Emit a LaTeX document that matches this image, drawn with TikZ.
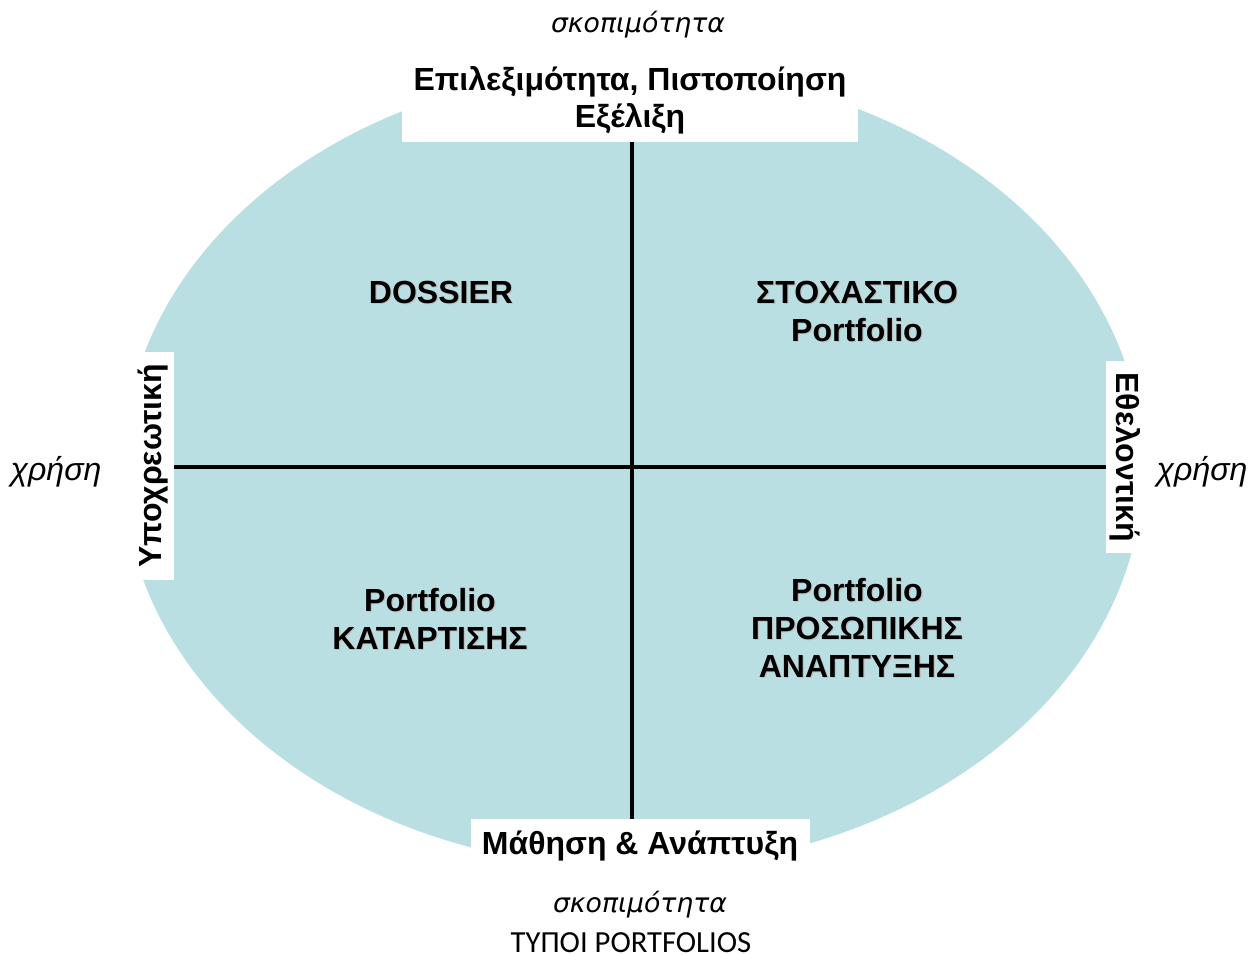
\documentclass[tikz,border=0pt]{standalone}
\usepackage{fontspec}
\setmainfont{Liberation Sans}
\newfontfamily\dvs{DejaVu Sans}
\newfontfamily\crl{Carlito}
\definecolor{ellteal}{RGB}{186,223,226}
\begin{document}
\begin{tikzpicture}[x=0.75pt,y=-0.75pt,
  boldlbl/.style={font=\bfseries\fontsize{24}{27.75}\selectfont, align=center, inner sep=0pt},
  quadlbl/.style={font=\bfseries\fontsize{24}{28.5}\selectfont, align=center, inner sep=0pt},
  quadshadow/.style={quadlbl, text=black!25},
  itlbl/.style={font=\dvs\itshape\fontsize{20}{24}\selectfont, inner sep=0pt},
  itlblb/.style={font=\itshape\fontsize{24}{28}\selectfont, inner sep=0pt},
  whitebox/.style={fill=white, draw=none, inner sep=0pt},
  axis/.style={line width=3pt, black}]
\useasboundingbox (0,0) rectangle (1248,955);
\fill[ellteal] (633,468) ellipse [x radius=510, y radius=400];
% white boxes
\node[whitebox, minimum width=342pt, minimum height=65.25pt] (topbox) at (630,98.5) {};
\node[whitebox, minimum width=40.5pt, minimum height=171pt] (leftbox) at (147,466) {};
\node[whitebox, minimum width=33pt, minimum height=144pt] (rightbox) at (1128,457) {};
\node[whitebox, minimum width=254.25pt, minimum height=39.75pt] (botbox) at (640.5,845.5) {};
% axes
\coordinate (vt) at (632,142);
\coordinate (vb) at (632,819);
\coordinate (hl) at (174,467);
\coordinate (hr) at (1106,467);
\draw[axis] (vt) -- (vb);
\draw[axis] (hl) -- (hr);
% texts
\node[itlbl] (sk1) at (638,25) {σκοπιμότητα};
\node[boldlbl] (toptxt) at (630,100) {Επιλεξιμότητα, Πιστοποίηση\\Εξέλιξη};
\node[boldlbl, rotate=90] (lefttxt) at (153,466) {Υποχρεωτική};
\node[boldlbl, rotate=-90] (righttxt) at (1125,457) {Εθελοντική};
\node[itlblb] (xl) at (56,472) {χρήση};
\node[itlblb] (xr) at (1202,472) {χρήση};
\node[boldlbl] (bottxt) at (640,846) {Μάθηση \& Ανάπτυξη};
\node[itlbl] (sk2) at (640,905) {σκοπιμότητα};
\node[font=\crl\fontsize{23}{26}\selectfont, inner sep=0pt, anchor=base] (typ) at (631,952) {ΤΥΠΟΙ PORTFOLIOS};
% quadrant labels with soft shadow
\node[quadshadow] (q1s) at (442.2,293.2) {DOSSIER};
\node[quadshadow] (q2s) at (858.2,312.2) {ΣΤΟΧΑΣΤΙΚΟ\\Portfolio};
\node[quadshadow] (q3s) at (431.2,620.2) {Portfolio\\ΚΑΤΑΡΤΙΣΗΣ};
\node[quadshadow] (q4s) at (858.2,629.2) {Portfolio\\ΠΡΟΣΩΠΙΚΗΣ\\ΑΝΑΠΤΥΞΗΣ};
\node[quadlbl] (q1) at (441,292) {DOSSIER};
\node[quadlbl] (q2) at (857,311) {ΣΤΟΧΑΣΤΙΚΟ\\Portfolio};
\node[quadlbl] (q3) at (430,619) {Portfolio\\ΚΑΤΑΡΤΙΣΗΣ};
\node[quadlbl] (q4) at (857,628) {Portfolio\\ΠΡΟΣΩΠΙΚΗΣ\\ΑΝΑΠΤΥΞΗΣ};
\end{tikzpicture}
\end{document}
